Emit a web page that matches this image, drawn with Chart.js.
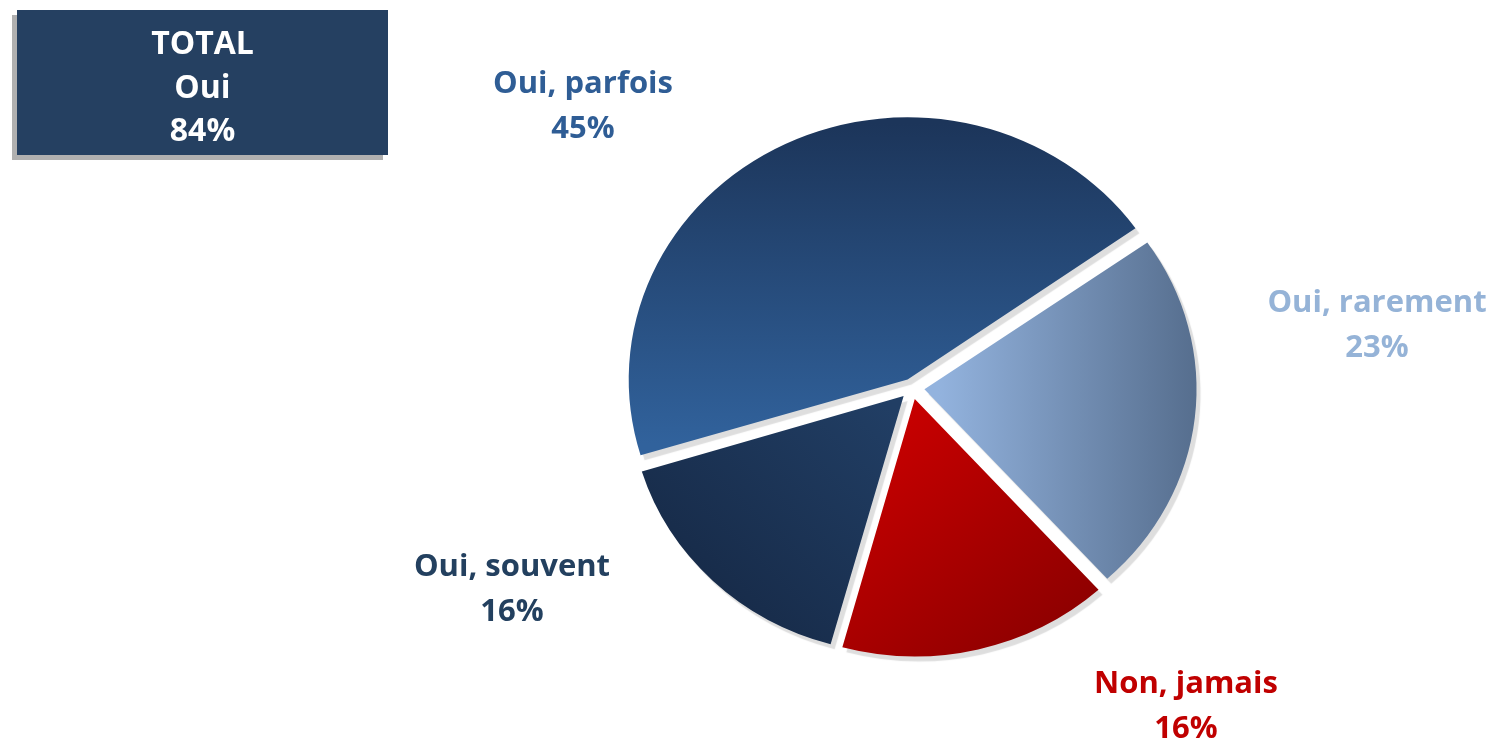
<!DOCTYPE html>
<html lang="fr">
<head>
<meta charset="utf-8">
<title>Oui 84%</title>
<script src="https://cdn.jsdelivr.net/npm/chart.js@4.4.1/dist/chart.umd.min.js"></script>
<style>
  html, body { margin: 0; padding: 0; background: #fff; overflow: hidden; }
  #wrap { position: relative; width: 1495px; height: 739px; }
  #total {
    position: absolute; left: 17px; top: 10px; width: 371px; height: 145px;
    box-sizing: border-box; padding-top: 10px;
    background: #254061; box-shadow: -5px 5px 0 #b0b0b0;
    color: #fff; font: 700 32px 'Open Sans', sans-serif;
    line-height: 43.5px; text-align: center;
  }
</style>
</head>
<body>
<div id="wrap">
  <canvas id="chart" width="1495" height="739"></canvas>
  <div id="total"></div>
</div>
<script>
// data (clockwise from the upper right)
const categories = ['Oui, rarement', 'Non, jamais', 'Oui, souvent', 'Oui, parfois'];
const values = [23, 16, 16, 45];
const totalTitle = ['TOTAL', 'Oui'];
const totalOui = 84;

// look
const labelColors = ['#95b3d7', '#c00000', '#23405f', '#2f5d95'];
const gradStops = [
    ['#93b3de', '#566e8e'],
    ['#c60000', '#8a0000'],
    ['#213e64', '#172b49'],
    ['#1c355a', '#31629c']
];
// gradient direction, in units of the radius from the centre
const gradDirs = [
    [0.05, 0, 1, 0],
    [0, 0.05, 0.7, 0.85],
    [0, 0.1, -0.7, 0.8],
    [0, -1, 0, 0.25]
];
// label anchors, relative to the pie centre
const labelAnchors = [[465, -76], [274, 305], [-400, 188], [-329, -295]];
const pieRadius = 272;

document.getElementById('total').innerHTML =
    totalTitle.map(t => '<div>' + t + '</div>').join('') + '<div>' + totalOui + '%</div>';

function sliceFill(context) {
    const i = context.dataIndex;
    const area = context.chart.chartArea;
    if (!area) return gradStops[i][0];
    const cx = (area.left + area.right) / 2;
    const cy = (area.top + area.bottom) / 2;
    const d = gradDirs[i];
    const g = context.chart.ctx.createLinearGradient(
        cx + d[0] * pieRadius, cy + d[1] * pieRadius,
        cx + d[2] * pieRadius, cy + d[3] * pieRadius);
    g.addColorStop(0, gradStops[i][0]);
    g.addColorStop(1, gradStops[i][1]);
    return g;
}

// slightly flattened pie with a soft grey shadow
const pieLook = {
    id: 'pieLook',
    beforeDatasetsDraw(chart) {
        const arc = chart.getDatasetMeta(0).data[0];
        const ctx = chart.ctx;
        ctx.save();
        ctx.translate(arc.x, arc.y);
        ctx.scale(1, 0.94);
        ctx.translate(-arc.x, -arc.y);
        ctx.shadowColor = 'rgba(0, 0, 0, 0.13)';
        ctx.shadowOffsetX = 4;
        ctx.shadowOffsetY = 5;
        ctx.shadowBlur = 1;
    },
    afterDatasetsDraw(chart) {
        chart.ctx.restore();
    }
};

const sliceLabels = {
    id: 'sliceLabels',
    afterDraw(chart) {
        const ctx = chart.ctx;
        const arc = chart.getDatasetMeta(0).data[0];
        ctx.save();
        ctx.font = "700 31px 'Open Sans'";
        ctx.textAlign = 'center';
        ctx.textBaseline = 'alphabetic';
        chart.data.labels.forEach((lab, i) => {
            const x = arc.x + labelAnchors[i][0];
            const y = arc.y + labelAnchors[i][1];
            ctx.fillStyle = labelColors[i];
            ctx.fillText(lab, x, y);
            ctx.fillText(chart.data.datasets[0].data[i] + '%', x, y + 45);
        });
        ctx.restore();
    }
};

new Chart(document.getElementById('chart'), {
    type: 'pie',
    data: {
        labels: categories,
        datasets: [{
            data: values,
            backgroundColor: sliceFill,
            borderWidth: 0,
            offset: [50, 48, 48, 40]
        }]
    },
    options: {
        responsive: false,
        animation: false,
        events: [],
        rotation: 55,
        radius: pieRadius,
        layout: { padding: { left: 329, right: 0, top: 37, bottom: 0 } },
        plugins: {
            legend: { display: false },
            tooltip: { enabled: false }
        }
    },
    plugins: [pieLook, sliceLabels]
});
</script>
</body>
</html>
